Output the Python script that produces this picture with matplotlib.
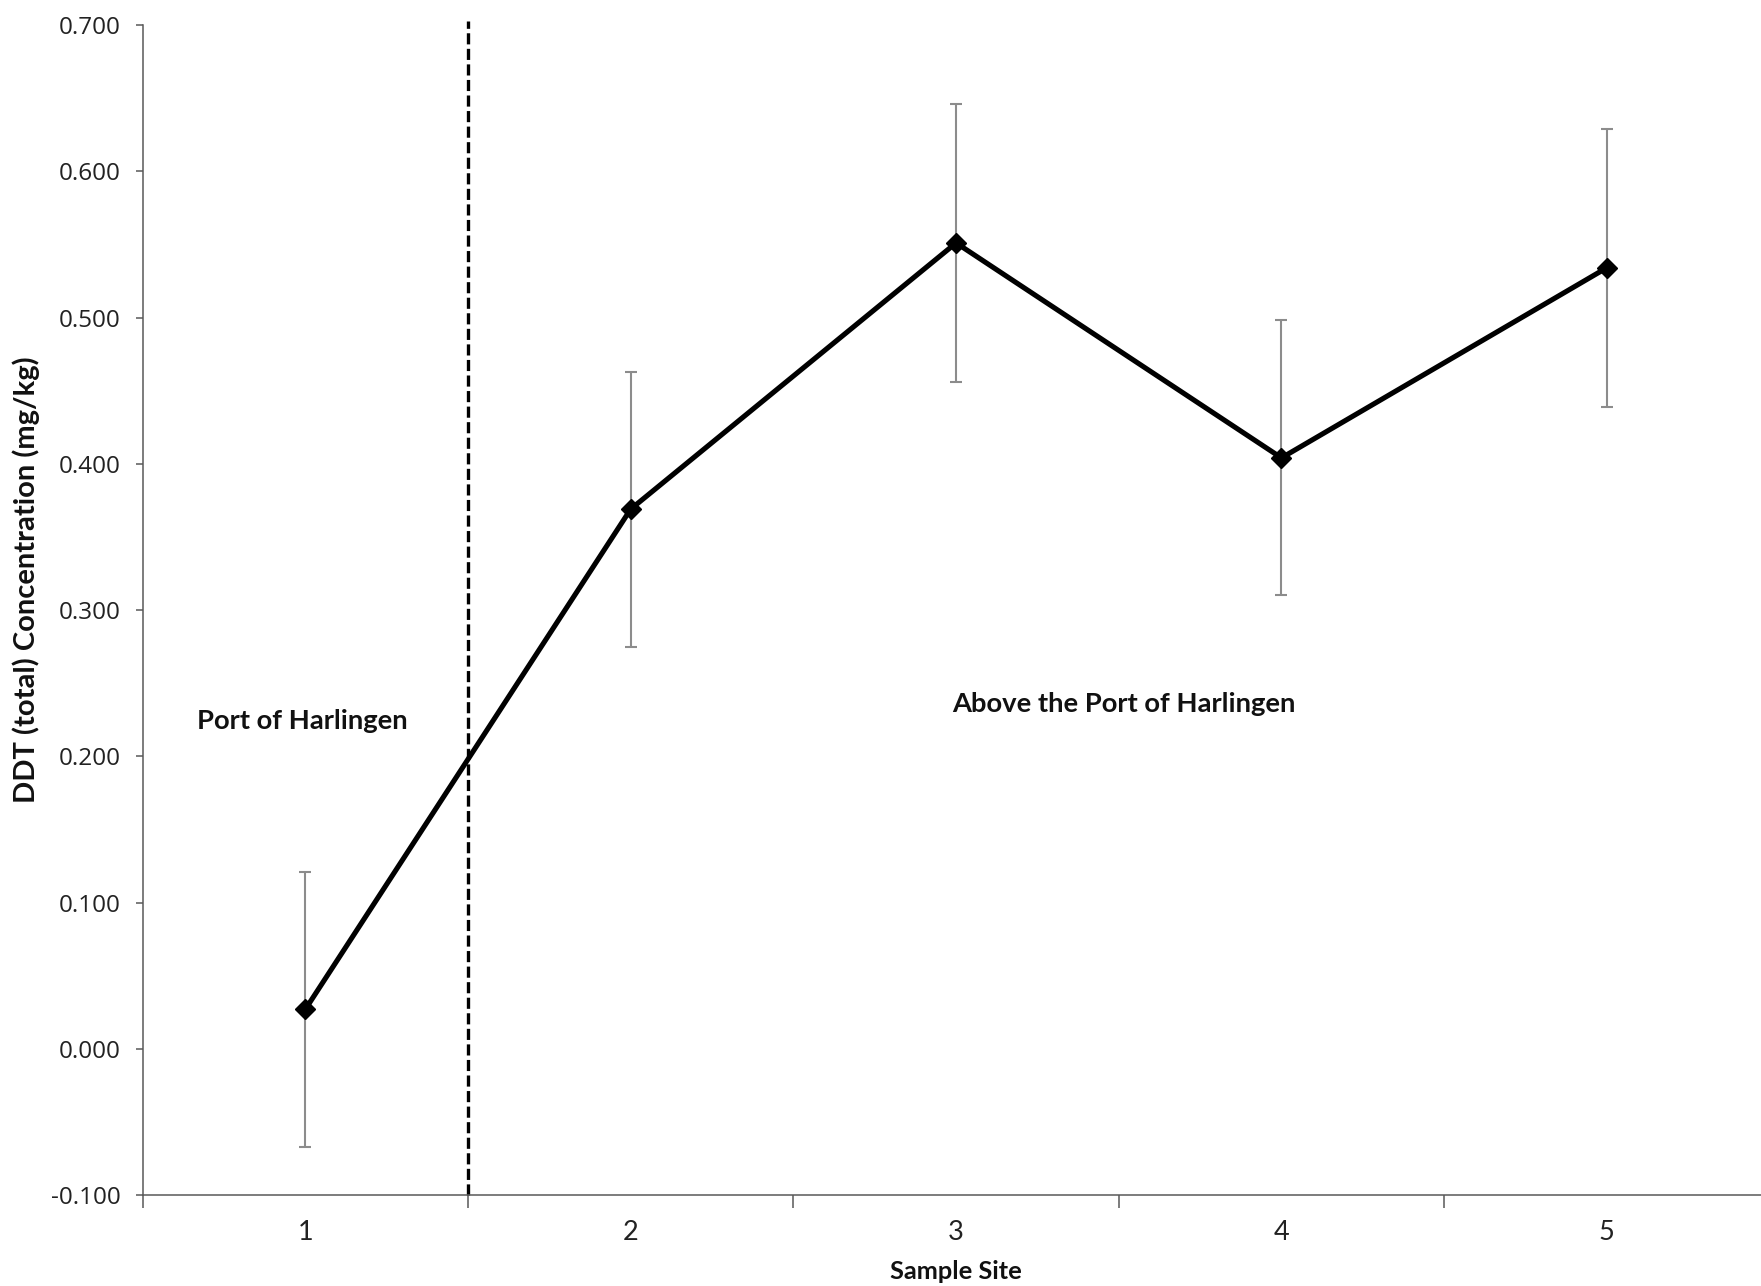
import numpy as np
import matplotlib.pyplot as plt
from matplotlib.ticker import FixedLocator, NullFormatter

# mean DDT (total) per sample site with error bar half-widths
sites = [1, 2, 3, 4, 5]
ddt_mean = [0.027, 0.369, 0.551, 0.404, 0.534]
ddt_err = [0.094, 0.094, 0.095, 0.094, 0.095]

y_ticks = [-0.1, 0.0, 0.1, 0.2, 0.3, 0.4, 0.5, 0.6, 0.7]
site_bounds = [0.5, 1.5, 2.5, 3.5, 4.5, 5.5]

# dashed divider between the port site and the upstream sites
divider_x = 1.5
divider_top = 0.703

region_labels = ["Port of Harlingen", "Above the Port of Harlingen"]
region_x = [0.99, 3.517]
region_y = [0.2186, 0.2305]

plt.rcParams['font.family'] = ['Lato', 'DejaVu Sans']
plt.rcParams['lines.scale_dashes'] = False

axis_grey = '#595959'
bar_grey = '#8c8c8c'

fig = plt.figure(figsize=(17.61, 12.86), dpi=100)
ax = fig.add_axes([0.08103, 0.07076, 0.92379, 0.90980])

ax.plot(sites, ddt_mean, color='black', lw=3.7, zorder=3, solid_joinstyle='round')
ax.errorbar(sites, ddt_mean, yerr=ddt_err, fmt='none', ecolor=bar_grey,
            elinewidth=1.5, capsize=4.5, capthick=1.5, zorder=4)
ax.plot(sites, ddt_mean, linestyle='none', marker='D', markersize=10.5,
        color='black', zorder=5)

ax.plot([divider_x, divider_x], [y_ticks[0], divider_top], color='black',
        lw=2.4, dashes=(8, 3.2), clip_on=False, zorder=2)

for label, x, y in zip(region_labels, region_x, region_y):
    ax.text(x, y, label, ha='center', va='baseline', fontsize=19.7,
            fontweight='bold', color='#111111')

ax.set_xlim(site_bounds[0], site_bounds[-1])
ax.set_ylim(y_ticks[0], y_ticks[-1])

ax.set_yticks(y_ticks)
ax.set_yticklabels([f"{v:.3f}" for v in y_ticks], family=['Open Sans', 'DejaVu Sans'],
                   fontsize=17.5, color='#222222')
ax.tick_params(axis='y', direction='out', length=5, width=1.1, color=axis_grey, pad=11)

ax.set_xticks(sites)
ax.set_xticklabels([str(s) for s in sites], fontsize=19.5, color='#222222')
ax.xaxis.set_minor_locator(FixedLocator(site_bounds))
ax.xaxis.set_minor_formatter(NullFormatter())
ax.tick_params(axis='x', which='major', length=0, pad=18)
ax.tick_params(axis='x', which='minor', direction='out', length=9, width=1.1, color=axis_grey)

for side in ['top', 'right']:
    ax.spines[side].set_visible(False)
for side in ['left', 'bottom']:
    ax.spines[side].set_color(axis_grey)
    ax.spines[side].set_linewidth(1.1)

ax.set_xlabel('Sample Site', fontsize=18.3, fontweight='bold', color='#111111', labelpad=11)
ax.set_ylabel('DDT (total) Concentration (mg/kg)', fontsize=21, fontweight='bold',
              color='#111111', labelpad=7.5)
# the y title sits a little above the middle of the axis
ax.yaxis.label.set_y(0.526)

fig.savefig('out.png', dpi=100)
